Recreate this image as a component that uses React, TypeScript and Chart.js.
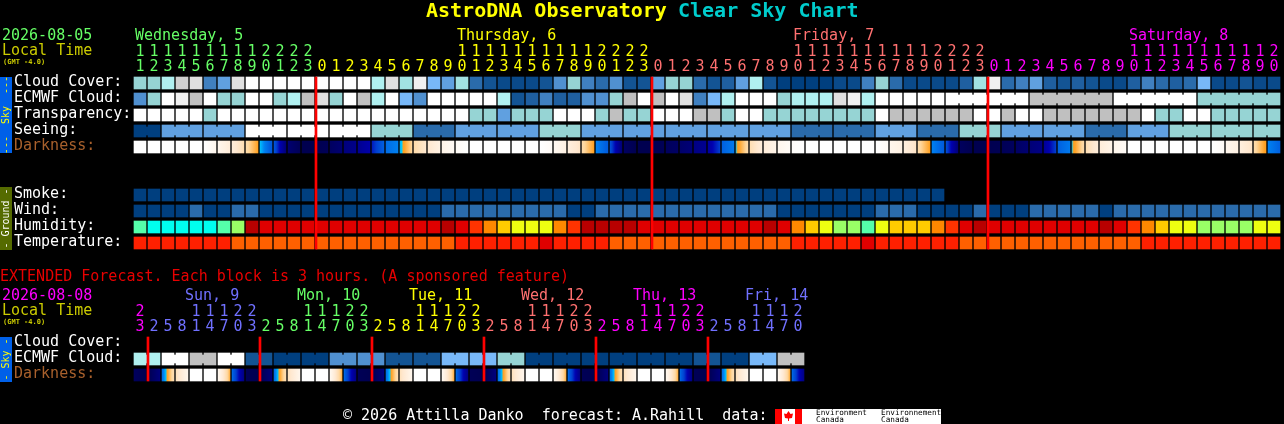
import { useEffect, useRef } from "react";
import { Chart, registerables } from "chart.js";

Chart.register(...registerables);

const MONO = '"DejaVu Sans Mono", monospace';
const EXT_TOP = 265;

// hours of the 82 one-hour columns
const mainHours = [
  11, 12, 13, 14, 15, 16, 17, 18, 19, 20, 21, 22, 23,
  0, 1, 2, 3, 4, 5, 6, 7, 8, 9, 10, 11, 12, 13, 14, 15, 16, 17, 18, 19, 20, 21, 22, 23,
  0, 1, 2, 3, 4, 5, 6, 7, 8, 9, 10, 11, 12, 13, 14, 15, 16, 17, 18, 19, 20, 21, 22, 23,
  0, 1, 2, 3, 4, 5, 6, 7, 8, 9, 10, 11, 12, 13, 14, 15, 16, 17, 18, 19, 20,
];
// hours of the 48 three-hour blocks
const extHours = [
  23,
  2, 5, 8, 11, 14, 17, 20, 23,
  2, 5, 8, 11, 14, 17, 20, 23,
  2, 5, 8, 11, 14, 17, 20, 23,
  2, 5, 8, 11, 14, 17, 20, 23,
  2, 5, 8, 11, 14, 17, 20, 23,
  2, 5, 8, 11, 14, 17, 20,
];

const mainRows = ["Cloud Cover:", "ECMWF Cloud:", "Transparency:", "Seeing:", "Darkness:", "", "", "Smoke:", "Wind:", "Humidity:", "Temperature:"];
const extRows = ["Cloud Cover:", "ECMWF Cloud:", "Darkness:"];

// percent cloud
const cloudCover = [
  40, 40, 30, 15, 10, 70, 60, 10, 0, 0, 0, 0, 0, 0, 0, 0, 0, 30, 10, 35, 5,
  50, 60, 35, 80, 90, 95, 95, 95, 90, 65, 40, 70, 80, 65, 90, 90,
  60, 40, 40, 80, 90, 85, 60, 30, 90, 100, 100, 100, 100, 95, 95,
  70, 40, 80, 95, 95, 95, 95, 85, 35, 5, 80, 70, 60, 85, 90, 85, 90, 95, 95, 85, 70, 80, 85, 80, 50, 95, 95, 90, 95, 95,
];
const ecmwfCloud = [
  65, 40, 0, 5, 20, 0, 40, 40, 0, 0, 40, 30, 20, 10, 40, 0, 20, 30, 0, 50, 65,
  0, 0, 0, 0, 0, 30, 90, 85, 70, 85, 85, 65, 65, 40, 20, 0,
  20, 0, 10, 70, 50, 30, 0, 0, 0, 40, 30, 30, 30, 10, 5,
  30, 0, 0, 0, 0, 0,
  0, 0, 0, 0, 0, 0, 20, 20, 20, 20, 20, 20, 0, 0, 0, 0, 0, 0, 40, 40, 40, 40, 40, 40,
];
const ecmwfMergedFrom = [58, 64, 70, 76];
const transparency = [
  0, 0, 0, 0, 0, 40, 0, 0, 0, 0, 0, 0, 0, 0, 0, 0, 0, 0, 0, 0, 0, 0, 0, 0,
  40, 40, 60, 40, 40, 40, 0, 0, 0, 40, 20, 40, 40, 0, 0, 0, 20, 20, 40, 0, 0,
  40, 40, 40, 40, 40, 40, 40, 40, 0, 20, 20, 20, 20, 20, 20, 0, 0, 20, 0, 0,
  20, 20, 20, 20, 20, 20, 20, 0, 40, 40, 0, 0, 40, 40, 40, 40, 40,
];
// seeing comes in 3-hour blocks, cut off at both ends
const seeingBlocks = [100, 60, 60, 0, 0, 0, 40, 80, 60, 60, 40, 60, 60, 60, 60, 60, 80, 80, 60, 80, 40, 60, 60, 80, 60, 40, 40, 40];
const seeingSpans = [2, 3, 3, 3, 3, 3, 3, 3, 3, 3, 3, 3, 3, 3, 3, 3, 3, 3, 3, 3, 3, 3, 3, 3, 3, 3, 3, 2];

// darkness level at the left and right side of each column
const darkStart = [
  -4, -4, -4, -4, -4, -4, -3.2, -2.4, -1.2, 0.1, 1.3, 5, 6, 6, 5.5, 4.6, 4, 2.6, 0.8, 0.2, -1.2, -2, -3, -3.6,
  -4, -4, -4, -4, -4, -4, -3.4, -2.6, -1.2, 0.5, 1.5, 5.5, 6, 5.9, 5.6, 5.2, 4.4, 3.6, 1, 0.1, -1.4, -2.4, -3.2, -3.8,
  -4, -4, -4, -4, -4, -4, -3.2, -2.6, -1.2, 0.5, 1.6, 5.6, 6, 6, 5.8, 5.4, 4.8, 3.8, 1, 0.1, -1.4, -2.4, -3.2,
  -4, -4, -4, -4, -4, -4, -4, -3.2, -2.6, -1.2, 0.5,
];
const darkEnd = [
  -4, -4, -4, -4, -4, -3.2, -2.4, -1.4, -0.2, 1.2, 4.8, 5.8, 6, 5.8, 5, 4.2, 3.2, 1, 0.5, -1, -2, -2.8, -3.5, -4,
  -4, -4, -4, -4, -4, -3.6, -2.8, -1.8, -0.2, 1.1, 4.8, 6, 6, 5.8, 5.4, 4.8, 4, 2, 0.6, -1.2, -2.4, -3, -3.6, -4,
  -4, -4, -4, -4, -4, -3.6, -2.8, -1.8, -0.2, 1.1, 4.8, 6, 6, 5.9, 5.6, 5, 4.4, 2, 0.6, -1.2, -2.4, -3, -3.6,
  -4, -4, -4, -4, -4, -4, -3.6, -2.8, -1.8, -0.1, 1,
];
const smoke = [
  100, 100, 100, 100, 100, 100, 100, 100, 100, 100, 100, 100, 100, 100, 100, 100, 100, 100, 100, 100,
  100, 100, 100, 100, 100, 100, 100, 100, 100, 100, 100, 100, 100, 100, 100, 100, 100, 100, 100, 100,
  100, 100, 100, 100, 100, 100, 100, 100, 100, 100, 100, 100, 100, 100, 100, 100, 100, 100,
];
// km/h
const wind = [
  3, 3, 3, 3, 8, 3, 3, 8, 8, 3, 3, 3, 3, 3, 3, 3, 3, 3, 3, 3, 3, 3,
  8, 8, 8, 8, 8, 8, 8, 8, 8, 3, 3, 8, 8, 8, 8, 8, 8, 8, 8, 8, 8, 8, 8, 8,
  3, 3, 3, 3, 3, 3, 3, 8, 8, 8, 3, 3, 3, 3, 8, 3, 3, 3, 8, 8, 8, 8, 8, 3,
  8, 8, 8, 8, 8, 8, 8, 8, 8, 8, 8, 8,
];
// percent
const humidity = [
  75, 80, 80, 80, 80, 80, 75, 70, 40, 45, 45, 45, 45, 45, 45, 45, 45, 45, 45, 45, 45, 45,
  40, 45, 50, 55, 60, 65, 65, 65, 55, 50, 40, 40, 40, 40, 45, 45, 45, 45, 45, 45, 45, 45, 45, 40, 45,
  55, 60, 65, 70, 70, 75, 65, 60, 60, 60, 55, 50, 45, 40, 45, 45, 45, 45, 45, 45, 45, 45, 40, 45,
  50, 55, 60, 65, 65, 70, 70, 70, 70, 65, 65,
];
// deg C
const temperature = [
  24, 24, 24, 24, 24, 24, 24, 20, 20, 20, 20, 20, 20, 20, 20, 20, 20, 20, 20, 20, 20, 20, 20,
  24, 24, 24, 24, 24, 24, 28, 24, 24, 24, 24, 20, 20, 20, 20, 20, 20, 20, 20, 20, 20, 20, 20, 20,
  24, 24, 24, 24, 24, 28, 24, 24, 24, 24, 24, 24, 20, 20, 20, 20, 20, 20, 20, 20, 20, 20, 20, 20, 20,
  24, 24, 24, 24, 24, 24, 24, 24, 24, 24,
];

// extended forecast: ECMWF cloud holds for two blocks at a time
const extEcmwfPairs = [30, 0, 20, 0, 90, 100, 100, 65, 65, 90, 90, 50, 50, 40, 100, 100, 100, 100, 100, 100, 90, 100, 50, 20];
const extDarkStart = [
  5.6, 6, 0.8, -1.6, -4, -4, -3.4, 0.8,
  5.8, 6, 0.8, -1.6, -4, -4, -3.4, 0.8,
  5.8, 6, 0.8, -1.6, -4, -4, -3.4, 0.8,
  5.8, 6, 0.8, -1.6, -4, -4, -3.4, 0.8,
  5.8, 6, 0.8, -1.6, -4, -4, -3.4, 0.8,
  5.8, 6, 0.8, -1.6, -4, -4, -3.4, 0.8,
];
const extDarkEnd = [
  6, 4.6, -1.4, -3.2, -4, -4, -0.4, 4.4,
  6, 4.6, -1.4, -3.2, -4, -4, -0.4, 4.4,
  6, 4.6, -1.4, -3.2, -4, -4, -0.4, 4.4,
  6, 4.6, -1.4, -3.2, -4, -4, -0.4, 4.4,
  6, 4.6, -1.4, -3.2, -4, -4, -0.4, 4.4,
  6, 4.6, -1.4, -3.2, -4, -4, -0.4, 4.4,
];

const cloudColors: Record<number, string> = {
  100: "#003f7f", 95: "#0a4a8a", 90: "#135494", 85: "#1f5fa0", 80: "#2a6bab", 70: "#4080c0", 65: "#5090d0",
  60: "#60a0e0", 50: "#78b8f8", 40: "#96d4d4", 35: "#a2e2e2", 30: "#b0f0f0", 20: "#c0c0c0", 15: "#d0d0d0",
  10: "#e0e0e0", 5: "#f0f0f0", 0: "#ffffff",
};
const windColors: Record<number, string> = { 3: "#003f7f", 8: "#2a6bab" };
const humidityColors: Record<number, string> = {
  40: "#b80000", 45: "#e00000", 50: "#ff3300", 55: "#ff8800", 60: "#ffcc00", 65: "#eeff11", 70: "#99ff66", 75: "#55ffaa", 80: "#00ffee",
};
const temperatureColors: Record<number, string> = { 20: "#ff6000", 24: "#ff2000", 28: "#e00000" };

// darkness level -> colour, from full sun to deep night
const darkScale: [number, number[]][] = [
  [-4, [255, 255, 255]],
  [-3, [255, 244, 232]],
  [-2, [255, 232, 208]],
  [-1, [255, 216, 160]],
  [-0.2, [255, 160, 32]],
  [-0.01, [255, 160, 32]],
  [0, [0, 208, 255]],
  [0.5, [0, 128, 240]],
  [1, [0, 96, 224]],
  [2, [0, 64, 208]],
  [3, [0, 0, 176]],
  [4, [0, 0, 144]],
  [5, [0, 0, 112]],
  [6, [0, 0, 80]],
];

function darkColor(level: number) {
  for (let i = 1; i < darkScale.length; i++) {
    const [b, cb] = darkScale[i];
    if (level <= b) {
      const [a, ca] = darkScale[i - 1];
      const t = (level - a) / (b - a);
      const c = ca.map((v, k) => Math.round(v + (cb[k] - v) * t));
      return `rgb(${c[0]},${c[1]},${c[2]})`;
    }
  }
  return "rgb(0,0,80)";
}

function darkDataset(row: number, starts: number[], ends: number[]) {
  return {
    data: starts.map((_, i) => ({ x: i, y: [row - 0.375, row + 0.375] })),
    barThickness: 12,
    backgroundColor: (c: any) => {
      if (c.dataIndex === undefined || !c.chart.chartArea) return "#000";
      const mid = c.chart.scales.x.getPixelForValue(c.dataIndex);
      const g = c.chart.ctx.createLinearGradient(mid - 6, 0, mid + 6, 0);
      const a = starts[c.dataIndex];
      const b = ends[c.dataIndex];
      for (let s = 0; s <= 12; s++) g.addColorStop(s / 12, darkColor(a + ((b - a) * s) / 12));
      return g;
    },
  };
}

function blockDataset(row: number, values: number[], colors: Record<number, string>) {
  return {
    data: values.map((_, i) => ({ x: i, y: [row - 0.375, row + 0.375] })),
    barThickness: 12,
    backgroundColor: values.map(v => colors[v]),
  };
}

// the thin joins between blocks of one forecast period
function joinDataset(row: number, values: number[], runs: number[][], colors: Record<number, string>) {
  const pts: { x: number; y: number[] }[] = [];
  const bg: string[] = [];
  runs.forEach(([from, len]) => {
    for (let i = from; i < from + len - 1; i++) {
      pts.push({ x: i + 0.5, y: [row - 0.25, row + 0.25] });
      bg.push(colors[values[i]]);
    }
  });
  return { data: pts, barThickness: 2, backgroundColor: bg };
}

function midnightDataset(hours: number[], lastRow: number) {
  const pts: { x: number; y: number[] }[] = [];
  hours.forEach((h, i) => {
    if (i > 0 && h < hours[i - 1]) pts.push({ x: i - 0.43, y: [-0.375, lastRow + 0.375] });
  });
  return { data: pts, barThickness: 2, backgroundColor: "#ff0000" };
}

const seeing: number[] = [];
const seeingRuns: number[][] = [];
seeingBlocks.forEach((v, b) => {
  seeingRuns.push([seeing.length, seeingSpans[b]]);
  for (let n = 0; n < seeingSpans[b]; n++) seeing.push(v);
});

const extEcmwf: number[] = [];
const extEcmwfRuns: number[][] = [];
extEcmwfPairs.forEach(v => {
  extEcmwfRuns.push([extEcmwf.length, 2]);
  extEcmwf.push(v, v);
});

const GREEN = "#66ff66";
const YELLOW = "#ffff00";
const PINK = "#ff7070";
const MAGENTA = "#ff00ff";
const BLUE = "#7070ff";
const OLIVE_TEXT = "#cccc00";
const mainDayColors = [GREEN, YELLOW, PINK, MAGENTA];
const extDayColors = [MAGENTA, BLUE, GREEN, YELLOW, PINK, MAGENTA, BLUE];

const mainDays = [
  { text: "Wednesday, 5", col: 0, color: GREEN },
  { text: "Thursday, 6", col: 23, color: YELLOW },
  { text: "Friday, 7", col: 47, color: PINK },
  { text: "Saturday, 8", col: 71, color: MAGENTA },
];
const extDays = [
  { text: "Sun, 9", col: 3.57, color: BLUE },
  { text: "Mon, 10", col: 11.57, color: GREEN },
  { text: "Tue, 11", col: 19.57, color: YELLOW },
  { text: "Wed, 12", col: 27.57, color: PINK },
  { text: "Thu, 13", col: 35.57, color: MAGENTA },
  { text: "Fri, 14", col: 43.57, color: BLUE },
];

function dayIndex(hours: number[], i: number) {
  let n = 0;
  for (let k = 1; k <= i; k++) if (hours[k] < hours[k - 1]) n++;
  return n;
}

function put(ctx: CanvasRenderingContext2D, text: string, x: number, y: number, color: string, font: string) {
  ctx.font = font;
  ctx.fillStyle = color;
  ctx.textAlign = "left";
  ctx.textBaseline = "middle";
  ctx.fillText(text, x, y + 1);
}

function sideBar(ctx: CanvasRenderingContext2D, top: number, bottom: number, fill: string, text: string, color: string) {
  ctx.fillStyle = fill;
  ctx.fillRect(0, top, 12, bottom - top);
  ctx.save();
  ctx.translate(6, (top + bottom) / 2);
  ctx.rotate(-Math.PI / 2);
  ctx.font = `10px ${MONO}`;
  ctx.fillStyle = color;
  ctx.textAlign = "center";
  ctx.textBaseline = "middle";
  ctx.fillText(text, 0, 0);
  ctx.restore();
}

function dayNames(chart: any, days: typeof mainDays, y: number) {
  const x = chart.scales.x;
  days.forEach(d => put(chart.ctx, d.text, Math.round(x.getPixelForValue(d.col) - 5), y, d.color, `15px ${MONO}`));
}

const mainText = {
  id: "mainText",
  afterDraw(chart: any) {
    const ctx = chart.ctx;
    ctx.save();
    put(ctx, "AstroDNA Observatory", 426, 11, "#ffff00", `bold 20px ${MONO}`);
    put(ctx, "Clear Sky Chart", 678, 11, "#00cccc", `bold 20px ${MONO}`);
    put(ctx, "2026-08-05", 2, 35, GREEN, `15px ${MONO}`);
    put(ctx, "Local Time", 2, 50, OLIVE_TEXT, `15px ${MONO}`);
    put(ctx, "(GMT -4.0)", 3, 61, OLIVE_TEXT, `bold 7px ${MONO}`);
    dayNames(chart, mainDays, 35);
    sideBar(ctx, 77, 153, "#0060e8", "---  Sky  ---", "#ffff00");
    sideBar(ctx, 187, 250, "#556b00", "- Ground -", "#ffffff");
    ctx.restore();
  },
};

const extText = {
  id: "extText",
  afterDraw(chart: any) {
    const ctx = chart.ctx;
    ctx.save();
    ctx.translate(0, -EXT_TOP);
    put(ctx, "EXTENDED Forecast. Each block is 3 hours. (A sponsored feature)", 0, 276, "#e80000", `15px ${MONO}`);
    put(ctx, "2026-08-08", 2, 295, MAGENTA, `15px ${MONO}`);
    put(ctx, "Local Time", 2, 310, OLIVE_TEXT, `15px ${MONO}`);
    put(ctx, "(GMT -4.0)", 3, 321, OLIVE_TEXT, `bold 7px ${MONO}`);
    dayNames(chart, extDays, 295);
    sideBar(ctx, 337, 382, "#0060e8", "- Sky -", "#ffff00");
    put(ctx, "\u00a9 2026 Attilla Danko  forecast: A.Rahill  data:", 343, 415, "#ffffff", `15px ${MONO}`);
    // data provider logo
    ctx.fillStyle = "#ffffff";
    ctx.fillRect(775, 409, 166, 15);
    ctx.fillStyle = "#ff0000";
    ctx.fillRect(775, 409, 7, 15);
    ctx.fillRect(795, 409, 7, 15);
    ctx.beginPath();
    ctx.moveTo(788.5, 411);
    ctx.lineTo(790.5, 414);
    ctx.lineTo(793, 413.5);
    ctx.lineTo(792, 418);
    ctx.lineTo(789, 418.5);
    ctx.lineTo(789, 421);
    ctx.lineTo(788, 421);
    ctx.lineTo(788, 418.5);
    ctx.lineTo(785, 418);
    ctx.lineTo(784, 413.5);
    ctx.lineTo(786.5, 414);
    ctx.closePath();
    ctx.fill();
    put(ctx, "Environment", 816, 412, "#000000", `7.7px ${MONO}`);
    put(ctx, "Canada", 816, 419, "#000000", `7.7px ${MONO}`);
    put(ctx, "Environnement", 881, 412, "#000000", `7.7px ${MONO}`);
    put(ctx, "Canada", 881, 419, "#000000", `7.7px ${MONO}`);
    ctx.restore();
  },
};

function chartOptions(hours: number[], rows: string[], dayColors: string[], topHeight: number, bottomPad: number) {
  return {
    animation: false,
    responsive: false,
    layout: { autoPadding: false, padding: { left: 14, right: 3, top: 0, bottom: bottomPad } },
    plugins: { legend: { display: false }, title: { display: false }, tooltip: { enabled: false } },
    datasets: { bar: { grouped: false, borderWidth: 0 } },
    scales: {
      x: {
        type: "linear",
        position: "top",
        offset: false,
        min: -0.5,
        max: 81.5,
        grid: { display: false, drawTicks: false },
        border: { display: false },
        afterBuildTicks: (axis: any) => {
          axis.ticks = hours.map((_, i) => ({ value: i }));
        },
        afterFit: (axis: any) => {
          axis.height = topHeight;
        },
        ticks: {
          autoSkip: false,
          maxRotation: 0,
          minRotation: 0,
          padding: 0,
          font: { family: MONO, size: 15, lineHeight: 1 },
          callback: (v: number) => {
            const h = hours[v];
            return h >= 10 ? [String(Math.floor(h / 10)), String(h % 10)] : ["", String(h)];
          },
          color: (c: any) => dayColors[dayIndex(hours, c.tick.value)],
        },
      },
      y: {
        type: "linear",
        reverse: true,
        offset: false,
        min: -0.5,
        max: rows.length - 0.5,
        grid: { display: false, drawTicks: false },
        border: { display: false },
        // labels sit a pixel above the middle of their row
        afterBuildTicks: (axis: any) => {
          axis.ticks = rows.map((_, i) => ({ value: i - 1 / 16 }));
        },
        afterFit: (axis: any) => {
          axis.width = 119;
        },
        ticks: {
          autoSkip: false,
          crossAlign: "far",
          padding: 0,
          font: { family: MONO, size: 15, lineHeight: 1 },
          callback: (v: number) => rows[Math.round(v)],
          color: (c: any) => (rows[Math.round(c.tick.value)] === "Darkness:" ? "#a8602c" : "#ffffff"),
        },
      },
    },
  };
}

export default function App() {
  const mainRef = useRef<HTMLCanvasElement>(null);
  const extRef = useRef<HTMLCanvasElement>(null);

  useEffect(() => {
    if (!mainRef.current || !extRef.current) return;

    const ecmwfRuns = ecmwfMergedFrom.map(from => [from, 6]);
    const main = new Chart(mainRef.current, {
      type: "bar",
      data: {
        datasets: [
          midnightDataset(mainHours, 10),
          blockDataset(0, cloudCover, cloudColors),
          blockDataset(1, ecmwfCloud, cloudColors),
          joinDataset(1, ecmwfCloud, ecmwfRuns, cloudColors),
          blockDataset(2, transparency, cloudColors),
          blockDataset(3, seeing, cloudColors),
          joinDataset(3, seeing, seeingRuns, cloudColors),
          darkDataset(4, darkStart, darkEnd),
          blockDataset(7, smoke, cloudColors),
          blockDataset(8, wind, windColors),
          blockDataset(9, humidity, humidityColors),
          blockDataset(10, temperature, temperatureColors),
        ],
      },
      options: chartOptions(mainHours, mainRows, mainDayColors, 75, 14) as any,
      plugins: [mainText],
    } as any);

    const ext = new Chart(extRef.current, {
      type: "bar",
      data: {
        datasets: [
          midnightDataset(extHours, 2),
          blockDataset(1, extEcmwf, cloudColors),
          joinDataset(1, extEcmwf, extEcmwfRuns, cloudColors),
          darkDataset(2, extDarkStart, extDarkEnd),
        ],
      },
      options: chartOptions(extHours, extRows, extDayColors, 70, 41) as any,
      plugins: [extText],
    } as any);

    return () => {
      main.destroy();
      ext.destroy();
    };
  }, []);

  return (
    <div style={{ position: "fixed", left: 0, top: 0, width: 1284, height: 424, background: "#000", overflow: "hidden" }}>
      <canvas ref={mainRef} width={1284} height={EXT_TOP} style={{ position: "absolute", left: 0, top: 0 }} />
      <canvas ref={extRef} width={1284} height={424 - EXT_TOP} style={{ position: "absolute", left: 0, top: EXT_TOP }} />
    </div>
  );
}
